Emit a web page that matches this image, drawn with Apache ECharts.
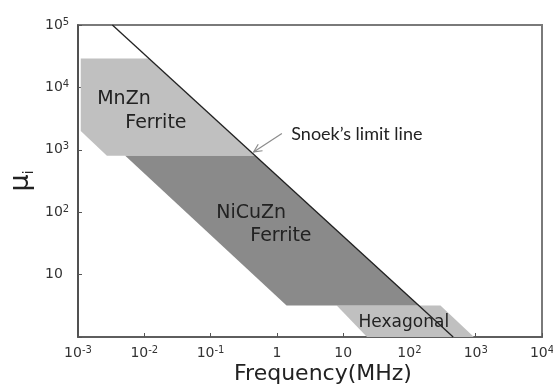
<!DOCTYPE html>
<html>
<head>
<meta charset="utf-8">
<script src="https://cdn.jsdelivr.net/npm/echarts@6/dist/echarts.min.js"></script>
<style>
  html, body { margin: 0; padding: 0; background: #fff; }
  #chart { width: 553px; height: 385px; }
</style>
</head>
<body>
<div id="chart"></div>
<script>
// 数据 (frequency MHz, initial permeability)
const snoekLine = [[0.0033, 100000], [457, 1]]
const mnznArea = [[0.0011, 29000], [0.0117, 29000], [0.473, 800], [0.00273, 800], [0.0011, 2000]]
const nicuznArea = [[0.00516, 800], [0.473, 800], [140, 3.2], [1.4, 3.2]]
const hexArea = [[8, 3.2], [294, 3.2], [940, 1], [22.9, 1]]
const regionText = ['MnZn', 'Ferrite', 'NiCuZn', 'Ferrite', 'Hexagonal']
const regionTextPos = [[0.00195, 6490], [0.00516, 2670], [0.122, 97], [0.397, 41], [17.1, 1.72]]
const regionTextSize = [19, 19, 19, 19, 17]
const noteText = ['Snoek’s limit line']
const notePos = [[1.65, 1780]]
const arrowPts = [[1.19, 1830], [0.446, 925]]

function expLabel (v, showOne) {
  let e = Math.round(Math.log10(v))
  if (e === 0) return showOne ? '1' : ''
  if (e === 1) return '10'
  return '10{sup|' + e + '}'
}

// 多边形区域
function areaSeries (pts, color) {
  return {
    type: 'custom',
    coordinateSystem: 'cartesian2d',
    data: pts,
    encode: { x: 0, y: 1 },
    silent: true,
    z: 2,
    renderItem (params, api) {
      if (params.dataIndex !== 0) return null
      return {
        type: 'polygon',
        shape: { points: pts.map(p => api.coord(p)) },
        style: { fill: color, stroke: null }
      }
    }
  }
}

let labelRich = {
  sup: { fontSize: 10, color: '#333', verticalAlign: 'top', lineHeight: 10, fontFamily: 'DejaVu Sans' }
}

let myChart = echarts.init(document.getElementById('chart'))
myChart.setOption({
  animation: false,
  grid: {
    left: 78,
    right: 11,
    top: 25,
    bottom: 48,
    outerBoundsMode: 'none',
    containLabel: false,
    show: true,
    borderColor: '#7a7a7a',
    borderWidth: 2
  },
  xAxis: {
    type: 'log',
    logBase: 10,
    min: 0.001,
    max: 10000,
    name: 'Frequency(MHz)',
    nameLocation: 'middle',
    nameGap: 26,
    nameMoveOverlap: false,
    nameTextStyle: {
      fontFamily: 'DejaVu Sans',
      fontSize: 22,
      color: '#222',
      padding: [0, 0, 0, 26]
    },
    axisLine: { lineStyle: { color: '#555', width: 1.5 } },
    axisTick: { inside: true, length: 4, lineStyle: { color: '#555' } },
    minorTick: { show: false },
    splitLine: { show: false },
    axisLabel: {
      margin: 8,
      fontFamily: 'DejaVu Sans',
      fontSize: 14,
      color: '#333',
      lineHeight: 16,
      formatter: v => expLabel(v, true),
      rich: labelRich
    }
  },
  yAxis: {
    type: 'log',
    logBase: 10,
    min: 1,
    max: 100000,
    name: '{mu|μ}{sub|i}',
    nameLocation: 'middle',
    nameGap: 42,
    nameMoveOverlap: false,
    nameRotate: 90,
    nameTextStyle: {
      rich: {
        mu: { fontFamily: 'DejaVu Sans', fontSize: 27, color: '#222', lineHeight: 30 },
        sub: { fontFamily: 'DejaVu Sans', fontSize: 14, color: '#222', verticalAlign: 'bottom', lineHeight: 14 }
      }
    },
    axisLine: { lineStyle: { color: '#444', width: 1.5 } },
    axisTick: { inside: true, length: 4, lineStyle: { color: '#555' } },
    minorTick: { show: false },
    splitLine: { show: false },
    axisLabel: {
      margin: 33,
      align: 'left',
      fontFamily: 'DejaVu Sans',
      fontSize: 14,
      color: '#333',
      lineHeight: 16,
      formatter: v => expLabel(v, false),
      rich: labelRich
    }
  },
  series: [
    areaSeries(hexArea, '#c0c0c0'),
    areaSeries(mnznArea, '#c0c0c0'),
    areaSeries(nicuznArea, '#8a8a8a'),
    {
      type: 'line',
      data: snoekLine,
      symbol: 'none',
      silent: true,
      z: 5,
      lineStyle: { color: '#222', width: 1.3 }
    },
    // 箭头
    {
      type: 'custom',
      coordinateSystem: 'cartesian2d',
      data: arrowPts,
      encode: { x: 0, y: 1 },
      silent: true,
      z: 6,
      renderItem (params, api) {
        if (params.dataIndex !== 0) return null
        let a = api.coord(arrowPts[0])
        let b = api.coord(arrowPts[1])
        let ang = Math.atan2(b[1] - a[1], b[0] - a[0])
        let len = 9
        let p1 = [b[0] - len * Math.cos(ang - 0.45), b[1] - len * Math.sin(ang - 0.45)]
        let p2 = [b[0] - len * Math.cos(ang + 0.45), b[1] - len * Math.sin(ang + 0.45)]
        let st = { stroke: '#8c8c8c', lineWidth: 1.2, fill: null }
        return {
          type: 'group',
          children: [
            { type: 'line', shape: { x1: a[0], y1: a[1], x2: b[0], y2: b[1] }, style: st },
            { type: 'polyline', shape: { points: [p1, b, p2] }, style: st }
          ]
        }
      }
    },
    // 区域文字
    {
      type: 'custom',
      coordinateSystem: 'cartesian2d',
      data: regionTextPos,
      encode: { x: 0, y: 1 },
      silent: true,
      z: 7,
      renderItem (params, api) {
        let p = api.coord([api.value(0), api.value(1)])
        return {
          type: 'text',
          x: p[0],
          y: p[1],
          style: {
            text: regionText[params.dataIndex],
            fontFamily: 'DejaVu Sans',
            fontSize: regionTextSize[params.dataIndex],
            fill: '#222',
            align: 'left',
            verticalAlign: 'middle'
          }
        }
      }
    },
    {
      type: 'custom',
      coordinateSystem: 'cartesian2d',
      data: notePos,
      encode: { x: 0, y: 1 },
      silent: true,
      z: 7,
      renderItem (params, api) {
        let p = api.coord([api.value(0), api.value(1)])
        return {
          type: 'text',
          x: p[0],
          y: p[1],
          style: {
            text: noteText[params.dataIndex],
            fontFamily: 'Lato',
            fontSize: 18,
            fill: '#222',
            align: 'left',
            verticalAlign: 'middle'
          }
        }
      }
    }
  ]
})
</script>
</body>
</html>
